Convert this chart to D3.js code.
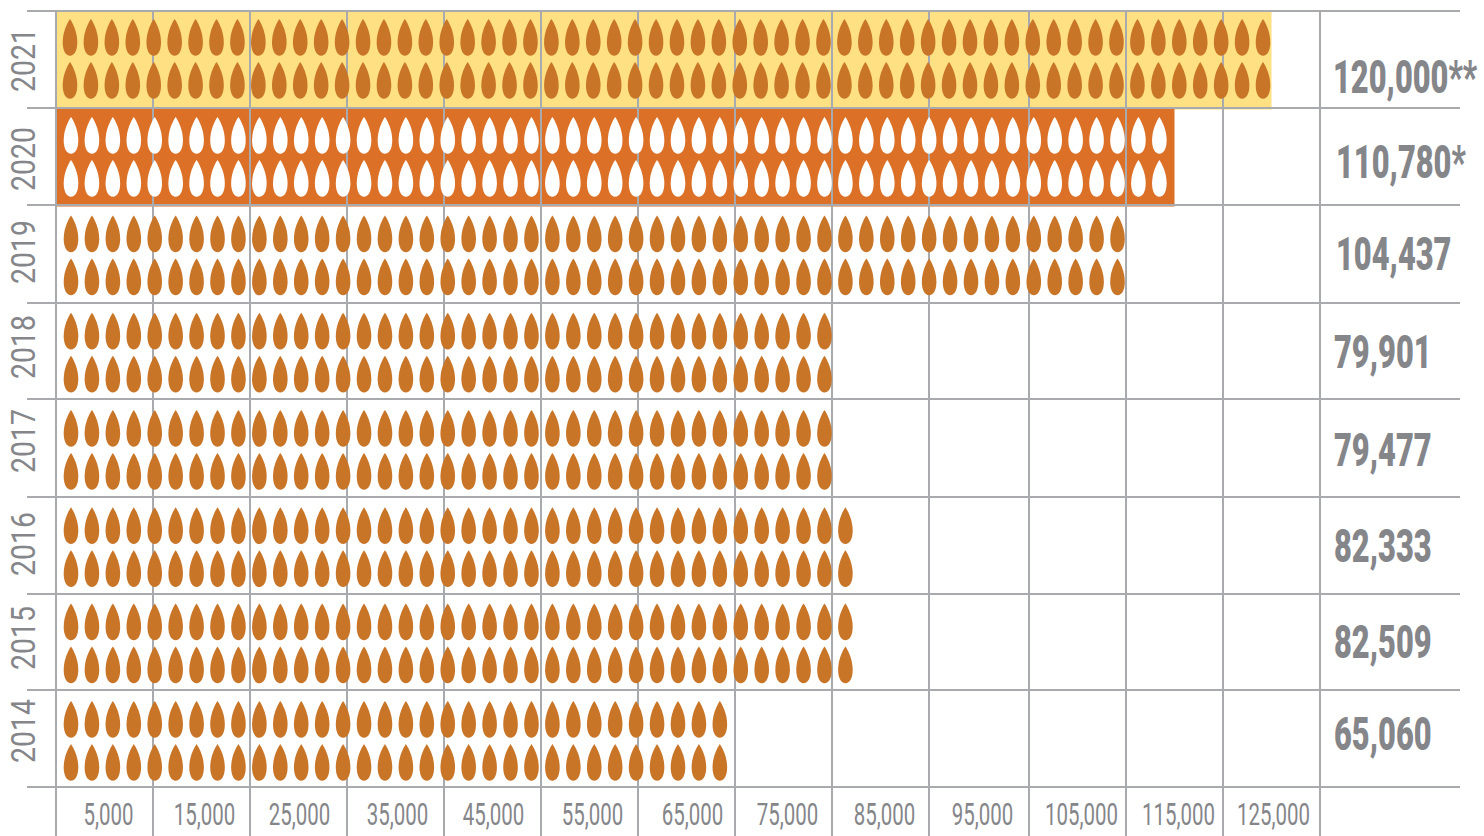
<!DOCTYPE html>
<html>
<head>
<meta charset="utf-8">
<title>Drops per year</title>
<script src="https://cdn.jsdelivr.net/npm/d3@7/dist/d3.min.js"></script>
<style>
  html, body { margin: 0; padding: 0; background: #fff; overflow: hidden; }
  svg { display: block; }
</style>
</head>
<body>
<div id="chart"></div>
<script>
// data
const years = ["2021", "2020", "2019", "2018", "2017", "2016", "2015", "2014"];
const valueLabels = ["120,000**", "110,780*", "104,437", "79,901", "79,477", "82,333", "82,509", "65,060"];
const dropColumns = [58, 53, 51, 37, 37, 38, 38, 32];
const highlightYears = ["2021", "2020"];
const highlightEnds = [125000, 115000];
const gridValues = [0, 10000, 20000, 30000, 40000, 50000, 60000, 70000, 80000, 90000, 100000, 110000, 120000, 130000];
const tickValues = [5000, 15000, 25000, 35000, 45000, 55000, 65000, 75000, 85000, 95000, 105000, 115000, 125000];

// layout, rows and columns in the original are not quite even
const width = 1484;
const height = 836;
const rowEdges = [11, 108, 205, 303, 399, 497, 594, 690];
const rowBottom = 787;
const dropInset = [8, 9, 10.5, 9.7, 11, 10.3, 9.5, 11];
const dropRowGap = 43;
const yearCenter = [60, 159, 252, 347, 441, 544, 638, 731];
const valueBaseline = [92.5, 178, 270, 368, 466, 562, 658, 750];
const valueLeft = [1333, 1336, 1336, 1334, 1334, 1334, 1334, 1334];
const tickNudge = [3.5, 2.5, 0.5, 1.5, 0.5, 2.5, 5.5, 3.5, 3.5, 3, 3.5, 3.5, 1.5];

const gridColor = "#a9aaae";
const textColor = "#85868a";
const dropColor = "#c87528";

const svg = d3.select("#chart")
  .append("svg")
  .attr("width", width)
  .attr("height", height)
  .attr("viewBox", [0, 0, width, height]);

const x = d3.scaleLinear()
  .domain([0, 90000, 100000, 130000])
  .range([56, 929, 1029, 1320]);

const rowY = d3.scaleOrdinal().domain(years).range(rowEdges);

// one drop column is worth about 2000
const colX = d3.scaleLinear().domain([0, 1]).range([71, 91.93]);

// highlight bands sit under the grid
svg.selectAll("rect.band")
  .data(highlightYears)
  .enter()
  .append("rect")
    .attr("class", "band")
    .attr("x", x(0))
    .attr("y", (d) => rowY(d) + 1)
    .attr("width", (d, i) => x(highlightEnds[i]) - x(0))
    .attr("height", 97.5)
    .attr("fill", (d) => d === "2021" ? "#ffe082" : "#dc7027");

// grid
svg.selectAll("line.v")
  .data(gridValues)
  .enter()
  .append("line")
    .attr("x1", (d) => x(d))
    .attr("x2", (d) => x(d))
    .attr("y1", rowEdges[0])
    .attr("y2", height)
    .attr("stroke", gridColor)
    .attr("stroke-width", 2);

svg.selectAll("line.h")
  .data(rowEdges.concat([rowBottom]))
  .enter()
  .append("line")
    .attr("x1", 27)
    .attr("x2", 1460)
    .attr("y1", (d) => d)
    .attr("y2", (d) => d)
    .attr("stroke", gridColor)
    .attr("stroke-width", 2);

// drop shape, tip at the origin
const drop = d3.path();
drop.moveTo(0, 0);
drop.bezierCurveTo(3, 4.5, 7.3, 13, 7.3, 23.5);
drop.bezierCurveTo(7.3, 31.5, 4.2, 36.8, 0, 36.8);
drop.bezierCurveTo(-4.2, 36.8, -7.3, 31.5, -7.3, 23.5);
drop.bezierCurveTo(-7.3, 13, -3, 4.5, 0, 0);
drop.closePath();

years.forEach((year, i) => {
  const cols = d3.range(dropColumns[i]);
  const dx = year === "2021" ? -1 : 0;
  [0, 1].forEach((r) => {
    svg.append("g")
      .selectAll("path")
      .data(cols)
      .enter()
      .append("path")
        .attr("d", drop.toString())
        .attr("fill", year === "2020" ? "#fff" : dropColor)
        .attr("transform", (c) => `translate(${colX(c) + dx},${rowY(year) + dropInset[i] + r * dropRowGap})`);
  });
});

// year labels, rotated and squeezed, no condensed font is installed
svg.selectAll("text.year")
  .data(years)
  .enter()
  .append("text")
    .attr("class", "year")
    .attr("transform", (d, i) => `translate(35,${yearCenter[i]}) rotate(-90) scale(0.86,1)`)
    .attr("text-anchor", "middle")
    .attr("font-family", "Roboto")
    .attr("font-weight", 400)
    .attr("font-size", 33)
    .attr("fill", textColor)
    .text((d) => d);

// totals on the right
svg.selectAll("text.value")
  .data(valueLabels)
  .enter()
  .append("text")
    .attr("class", "value")
    .attr("transform", (d, i) => `translate(${valueLeft[i]},${valueBaseline[i]}) scale(0.67,1)`)
    .attr("font-family", "Roboto")
    .attr("font-weight", 900)
    .attr("font-size", 46)
    .attr("fill", textColor)
    .text((d) => d);

// bottom labels
const xAxis = d3.axisBottom(x)
  .tickValues(tickValues)
  .tickFormat(d3.format(","))
  .tickSize(0)
  .tickPadding(0);

const axisG = svg.append("g")
  .attr("transform", `translate(0,${rowBottom})`)
  .call(xAxis);

axisG.select(".domain").remove();
axisG.selectAll("text")
  .attr("y", 38)
  .attr("dy", 0)
  .attr("transform", (d, i) => `translate(${tickNudge[i]},0) scale(0.66,1)`)
  .attr("font-family", "Roboto")
  .attr("font-weight", 400)
  .attr("font-size", 31)
  .attr("fill", textColor);
</script>
</body>
</html>
